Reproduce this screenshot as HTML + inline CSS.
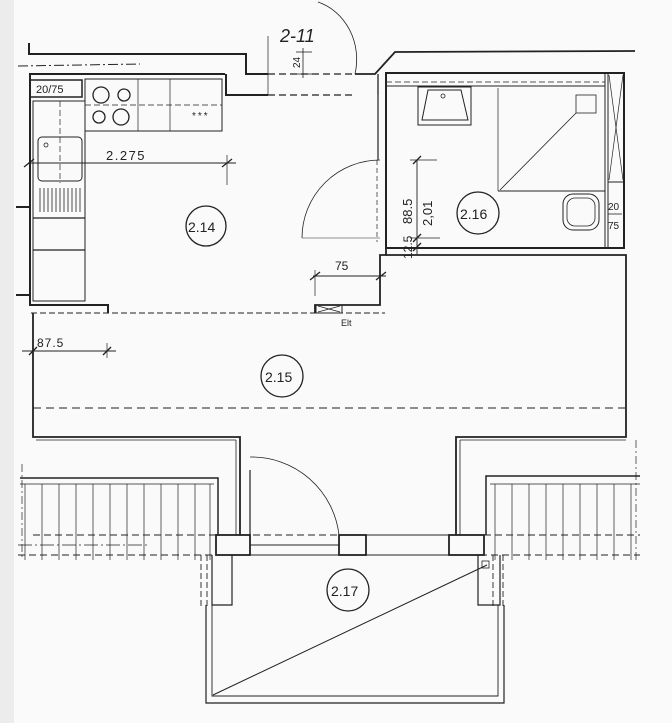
<!DOCTYPE html>
<html><head><meta charset="utf-8"><style>
html,body{margin:0;padding:0;background:#fafafa;}
svg{display:block}
text{font-family:"Liberation Sans",sans-serif;fill:#222}
</style></head><body>
<svg width="672" height="723" viewBox="0 0 672 723" xmlns="http://www.w3.org/2000/svg">
<rect x="0" y="0" width="14" height="723" fill="#ececec"/>
<g stroke="#222" fill="none" stroke-width="1.3">
<polyline points="29,43 29,54 246,54 246,74 268,74" stroke-width="2"/>
<line x1="18" y1="66" x2="140" y2="64" stroke-dasharray="10,3,2,3" stroke-width="1"/>
<line x1="268" y1="74" x2="355" y2="74" stroke-dasharray="7,4"/>
<line x1="268" y1="95" x2="355" y2="95" stroke-dasharray="7,4"/>
<polyline points="355,74 375,74 395,52 635,51" stroke-width="1.8"/>
<line x1="268" y1="36" x2="268" y2="95" stroke-width="0.7"/>
<line x1="296" y1="52" x2="312" y2="52" stroke-width="0.8"/><line x1="296" y1="74" x2="312" y2="74" stroke-width="0.8"/>
<line x1="303" y1="48" x2="303" y2="78" stroke-width="0.8"/>
<path d="M318,2 A55,60 0 0 1 355,74" stroke-width="0.8"/>
<polyline points="225,74 30,74 30,305 108,305 108,313" stroke-width="2"/>
<polyline points="226,74 226,95 268,95" stroke-width="2"/>
<rect x="30" y="80" width="52" height="17" stroke-width="1.5"/>
<rect x="33" y="101" width="52" height="200" stroke-width="1"/>
<line x1="60" y1="101" x2="60" y2="183" stroke-dasharray="6,3" stroke-width="0.7"/>
<rect x="38" y="137" width="44" height="44" rx="4" stroke-width="1"/>
<circle cx="46" cy="145" r="2" stroke-width="0.8"/>
<g stroke-width="0.8"><line x1="40" y1="188" x2="40" y2="212"/><line x1="44" y1="188" x2="44" y2="212"/><line x1="48" y1="188" x2="48" y2="212"/><line x1="52" y1="188" x2="52" y2="212"/><line x1="56" y1="188" x2="56" y2="212"/><line x1="60" y1="188" x2="60" y2="212"/><line x1="64" y1="188" x2="64" y2="212"/><line x1="68" y1="188" x2="68" y2="212"/><line x1="72" y1="188" x2="72" y2="212"/><line x1="76" y1="188" x2="76" y2="212"/><line x1="80" y1="188" x2="80" y2="212"/></g>
<line x1="33" y1="218" x2="85" y2="218"/><line x1="33" y1="250" x2="85" y2="250"/>
<line x1="16" y1="207" x2="30" y2="207" stroke-width="2"/><line x1="16" y1="295" x2="30" y2="295" stroke-width="2"/>
<rect x="85" y="79" width="137" height="52" stroke-width="1"/>
<line x1="85" y1="105" x2="222" y2="105" stroke-dasharray="6,3" stroke-width="0.8"/>
<line x1="138" y1="79" x2="138" y2="131" stroke-width="0.7"/><line x1="170" y1="79" x2="170" y2="131" stroke-width="0.7"/>
<circle cx="101" cy="95" r="8"/><circle cx="124" cy="95" r="6"/><circle cx="99" cy="117" r="6"/><circle cx="121" cy="117" r="8"/>
<line x1="28" y1="163" x2="236" y2="163" stroke-width="1"/>
<line x1="227" y1="155" x2="227" y2="185" stroke-width="0.7"/>
<line x1="24" y1="167" x2="34" y2="159"/><line x1="222" y1="167" x2="232" y2="159"/>
<path d="M302,238 A78,78 0 0 1 380,160" stroke-width="0.8"/>
<line x1="302" y1="238" x2="380" y2="238" stroke-width="0.6"/>
<line x1="377" y1="160" x2="377" y2="242" stroke-dasharray="5,3" stroke-width="0.7"/>
<line x1="386" y1="160" x2="386" y2="242" stroke-dasharray="5,3" stroke-width="0.7"/>
<polyline points="378,95 378,74" stroke-width="1.3"/>
<polyline points="378,95 378,160" stroke-width="1.2"/>
<polyline points="386,242 386,255 380,255 380,305 315,305 315,313" stroke-width="1.8"/>
<line x1="313" y1="276" x2="386" y2="276" stroke-width="0.9"/>
<line x1="315" y1="270" x2="315" y2="296" stroke-width="0.7"/>
<line x1="310" y1="280" x2="320" y2="272"/><line x1="376" y1="280" x2="386" y2="272"/>
<rect x="316" y="305" width="26" height="8" stroke-width="1"/>
<line x1="318" y1="306" x2="340" y2="312" stroke-width="0.7"/><line x1="318" y1="312" x2="340" y2="306" stroke-width="0.7"/>
<rect x="386" y="73" width="238" height="175" stroke-width="2"/>
<line x1="386" y1="82" x2="605" y2="82" stroke-dasharray="6,3" stroke-width="0.8"/>
<line x1="386" y1="86" x2="605" y2="86" stroke-width="1"/>
<line x1="605" y1="73" x2="605" y2="248" stroke-width="1"/>
<line x1="608" y1="73" x2="608" y2="248" stroke-width="1"/>
<line x1="608" y1="182" x2="624" y2="182" stroke-width="1"/>
<line x1="609" y1="75" x2="623" y2="180" stroke-width="0.7"/><line x1="623" y1="75" x2="609" y2="180" stroke-width="0.7"/>
<rect x="418" y="87" width="53" height="38" stroke-width="1"/>
<path d="M428,90 L461,90 L468,120 L422,120 Z" stroke-width="1"/>
<circle cx="443" cy="96" r="2" stroke-width="0.8"/>
<line x1="498" y1="88" x2="498" y2="191" stroke-width="0.7"/>
<line x1="498" y1="191" x2="605" y2="191" stroke-width="1"/>
<line x1="500" y1="190" x2="576" y2="113" stroke-width="0.8"/>
<rect x="576" y="95" width="20" height="18" stroke-width="0.8"/>
<rect x="563" y="194" width="36" height="36" rx="10" stroke-width="1"/>
<rect x="567" y="198" width="28" height="28" rx="8" stroke-width="0.8"/>
<line x1="608" y1="214" x2="622" y2="214" stroke-width="0.8"/>
<line x1="417" y1="160" x2="417" y2="254" stroke-width="0.9"/>
<line x1="410" y1="160" x2="437" y2="160" stroke-width="0.7"/>
<line x1="410" y1="238" x2="440" y2="238" stroke-width="0.7"/>
<line x1="413" y1="164" x2="421" y2="156"/><line x1="413" y1="242" x2="421" y2="234"/><line x1="413" y1="251" x2="421" y2="243"/>
<polyline points="386,255 626,255 626,437 456,437 456,535" stroke-width="1.8"/>
<line x1="31" y1="313" x2="385" y2="313" stroke-dasharray="6,3" stroke-width="1"/>
<polyline points="33,313 33,437 240,437 240,535" stroke-width="1.8"/>
<line x1="33" y1="408" x2="625" y2="408" stroke-dasharray="8,5" stroke-width="0.9"/>
<line x1="22" y1="351" x2="116" y2="351" stroke-width="0.9"/>
<line x1="33" y1="343" x2="33" y2="358" stroke-width="0.7"/><line x1="107" y1="343" x2="107" y2="358" stroke-width="0.7"/>
<line x1="29" y1="355" x2="37" y2="347"/><line x1="103" y1="355" x2="111" y2="347"/>
<line x1="36" y1="440" x2="236" y2="440" stroke-width="0.8"/><line x1="236" y1="440" x2="236" y2="535" stroke-width="0.8"/>
<line x1="460" y1="440" x2="626" y2="440" stroke-width="0.8"/><line x1="460" y1="440" x2="460" y2="535" stroke-width="0.8"/>
<polyline points="20,478 218,478 218,535" stroke-width="1.5"/>
<line x1="20" y1="484" x2="214" y2="484" stroke-width="0.8"/>
<polyline points="640,476 486,476 486,535" stroke-width="1.5"/>
<line x1="640" y1="484" x2="490" y2="484" stroke-width="0.8"/>
<g stroke-width="0.7">
<line x1="25" y1="484" x2="25" y2="560"/><line x1="42" y1="484" x2="42" y2="560"/><line x1="59" y1="484" x2="59" y2="560"/><line x1="76" y1="484" x2="76" y2="560"/><line x1="93" y1="484" x2="93" y2="560"/><line x1="110" y1="484" x2="110" y2="560"/><line x1="127" y1="484" x2="127" y2="560"/><line x1="144" y1="484" x2="144" y2="560"/><line x1="161" y1="484" x2="161" y2="560"/><line x1="178" y1="484" x2="178" y2="560"/><line x1="195" y1="484" x2="195" y2="560"/><line x1="210" y1="484" x2="210" y2="560"/>
<line x1="495" y1="484" x2="495" y2="560"/><line x1="512" y1="484" x2="512" y2="560"/><line x1="529" y1="484" x2="529" y2="560"/><line x1="546" y1="484" x2="546" y2="560"/><line x1="563" y1="484" x2="563" y2="560"/><line x1="580" y1="484" x2="580" y2="560"/><line x1="597" y1="484" x2="597" y2="560"/><line x1="614" y1="484" x2="614" y2="560"/><line x1="631" y1="484" x2="631" y2="560"/>
<line x1="22" y1="464" x2="22" y2="560" stroke-dasharray="8,3,2,3"/><line x1="636" y1="440" x2="636" y2="560" stroke-dasharray="8,3,2,3"/>
</g>
<line x1="33" y1="535" x2="640" y2="535" stroke-dasharray="7,4" stroke-width="0.9"/>
<line x1="18" y1="545" x2="150" y2="545" stroke-dasharray="14,3,2,3" stroke-width="0.8"/>
<line x1="18" y1="555" x2="640" y2="555" stroke-dasharray="7,4" stroke-width="0.9"/>
<rect x="216" y="535" width="34" height="20" stroke-width="1.8"/>
<rect x="339" y="535" width="27" height="20" stroke-width="1.8"/>
<rect x="449" y="535" width="35" height="20" stroke-width="1.8"/>
<line x1="250" y1="535" x2="250" y2="470" stroke-width="1.2"/>
<path d="M250,457 A88,88 0 0 1 339,535" stroke-width="0.8"/>
<line x1="250" y1="545" x2="339" y2="545" stroke-width="0.9"/>
<line x1="366" y1="535" x2="449" y2="535" stroke-width="0.9"/>
<line x1="250" y1="555" x2="449" y2="555" stroke-width="1"/>
<!-- 2.17 -->
<polyline points="212,555 212,605 232,605 232,555" stroke-width="1.2"/>
<polyline points="478,555 478,605 500,605 500,555" stroke-width="1.2"/>
<polyline points="212,605 212,696 498,696 498,605" stroke-width="0.9"/>
<polyline points="206,605 206,703 504,703 504,605" stroke-width="1.2"/>
<line x1="213" y1="695" x2="487" y2="565" stroke-width="1"/>
<rect x="482" y="561" width="7" height="7" stroke-width="0.8"/>
<line x1="201" y1="555" x2="201" y2="608" stroke-dasharray="6,3" stroke-width="0.9"/>
<line x1="207" y1="555" x2="207" y2="608" stroke-dasharray="6,3" stroke-width="0.9"/>
<line x1="493" y1="555" x2="493" y2="608" stroke-dasharray="6,3" stroke-width="0.9"/>
<line x1="503" y1="555" x2="503" y2="608" stroke-dasharray="6,3" stroke-width="0.9"/>
<circle cx="206" cy="226" r="20"/>
<circle cx="478" cy="213" r="21"/>
<circle cx="282" cy="376" r="21"/>
<circle cx="348" cy="590" r="21"/>
</g>
<g>
<text x="36" y="93" font-size="11">20/75</text>
<text x="192" y="119" font-size="10" letter-spacing="2">***</text>
<text x="106" y="160" font-size="13" letter-spacing="1.5">2.275</text>
<text x="188" y="232" font-size="14">2.14</text>
<text x="460" y="219" font-size="14">2.16</text>
<text x="265" y="382" font-size="14">2.15</text>
<text x="331" y="596" font-size="14">2.17</text>
<text x="335" y="270" font-size="12">75</text>
<text x="37" y="347" font-size="12" letter-spacing="1">87.5</text>
<text x="341" y="326" font-size="9">Elt</text>
<text x="280" y="42" font-size="18" font-style="italic">2-11</text>
<text x="608" y="210" font-size="10">20</text>
<text x="608" y="229" font-size="10">75</text>
<text transform="translate(412,224) rotate(-90)" font-size="13">88.5</text>
<text transform="translate(432,226) rotate(-90)" font-size="13">2,01</text>
<text transform="translate(412,259) rotate(-90)" font-size="12">12.5</text>
<text transform="translate(300,68) rotate(-90)" font-size="10">24</text>
</g>
</svg>
</body></html>
